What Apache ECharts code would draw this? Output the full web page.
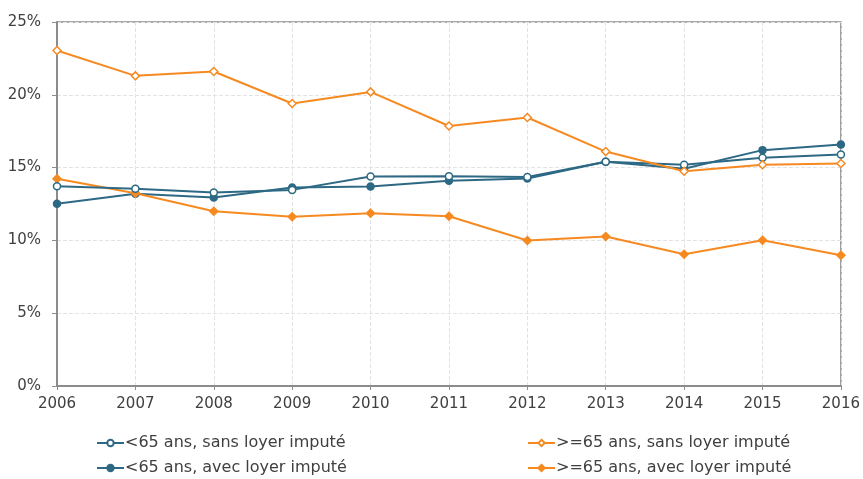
<!DOCTYPE html>
<html><head><meta charset="utf-8">
<script src="https://cdn.jsdelivr.net/npm/echarts@6/dist/echarts.min.js"></script>
<style>html,body{margin:0;padding:0;background:#fff}#c{width:863px;height:479px}</style>
</head><body><div id="c"></div>
<script>
const years = ['2006','2007','2008','2009','2010','2011','2012','2013','2014','2015','2016'];
const yTicks = [0,5,10,15,20,25];
const lt65Sans = [13.72,13.54,13.29,13.47,14.39,14.41,14.36,15.4,15.2,15.67,15.9];
const ge65Sans = [23.04,21.3,21.6,19.4,20.2,17.86,18.44,16.1,14.75,15.2,15.28];
const lt65Avec = [12.51,13.2,12.95,13.63,13.7,14.09,14.25,15.4,14.92,16.2,16.59];
const ge65Avec = [14.23,13.24,12.0,11.62,11.87,11.66,9.99,10.27,9.05,10.01,8.98];
const names = ['<65 ans, sans loyer imputé','<65 ans, avec loyer imputé','>=65 ans, sans loyer imputé','>=65 ans, avec loyer imputé'];

const BLUE = '#2d6984', ORANGE = '#f68a21';
const FONT = 'DejaVu Sans';
function mk(name, data, color, symbol, hollow){
  return {name, type:'line', data, symbol, symbolSize: symbol==='diamond'?8:7,
    lineStyle:{color, width:2}, itemStyle:{color: hollow?'#fff':color, borderColor:color, borderWidth:1.5},
    showSymbol:true, z: hollow?3:2, animation:false};
}
function leg(name, left, top){
  return {data:[name], left, top, itemWidth:27, itemHeight:8, itemGap:0,
    textStyle:{color:'#404040', fontFamily:FONT, fontSize:16, padding:[0,0,0,-4]}};
}
const chart = echarts.init(document.getElementById('c'), null, {renderer:'canvas'});
chart.setOption({
  animation:false,
  grid:{left:57, right:21, top:22, bottom:93, show:true, borderColor:'#8c8c8c', borderWidth:1.5, backgroundColor:'transparent'},
  xAxis:{type:'category', data:years, boundaryGap:false,
    axisLine:{lineStyle:{color:'#8c8c8c', width:2}},
    axisTick:{show:true, length:4, lineStyle:{color:'#8c8c8c'}},
    axisLabel:{color:'#404040', fontFamily:FONT, fontSize:15, margin:11},
    splitLine:{show:true, lineStyle:{color:'#e3e3e3', type:'dashed'}}},
  yAxis:{type:'value', min:0, max:25, interval:5,
    axisLine:{show:true, lineStyle:{color:'#8c8c8c', width:2}},
    axisTick:{show:true, length:5, lineStyle:{color:'#8c8c8c'}},
    axisLabel:{color:'#404040', fontFamily:FONT, fontSize:15, margin:16, formatter: v => yTicks.includes(v) ? v + '%' : ''},
    splitLine:{show:true, lineStyle:{color:'#e3e3e3', type:'dashed'}}},
  legend:[
    leg(names[0], 91, 430),
    leg(names[1], 91, 455),
    leg(names[2], 522, 430),
    leg(names[3], 522, 455)
  ],
  series:[
    mk(names[0], lt65Sans, BLUE, 'circle', true),
    mk(names[1], lt65Avec, BLUE, 'circle', false),
    mk(names[2], ge65Sans, ORANGE, 'diamond', true),
    mk(names[3], ge65Avec, ORANGE, 'diamond', false)
  ]
});
</script></body></html>
